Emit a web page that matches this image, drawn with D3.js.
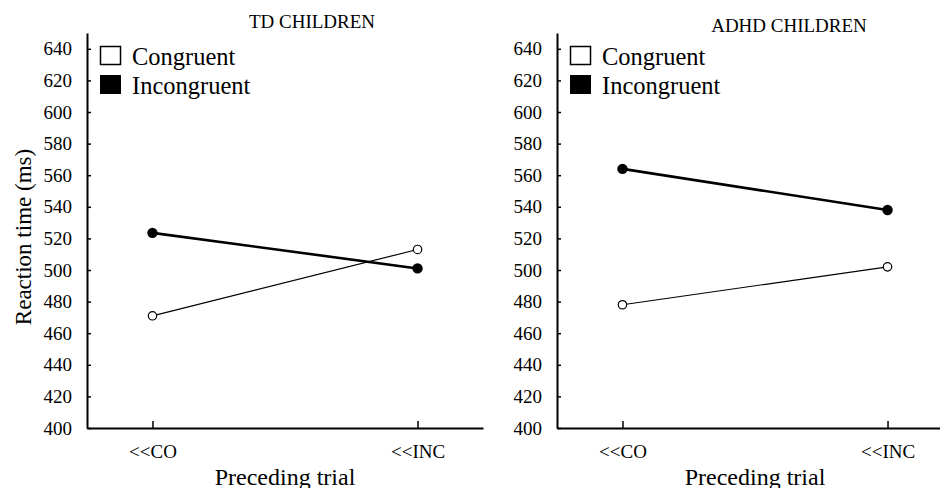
<!DOCTYPE html>
<html><head><meta charset="utf-8">
<script src="https://cdn.jsdelivr.net/npm/d3@7"></script>
<style>body{margin:0;background:#fff}svg{display:block}text{font-family:"Liberation Serif","Times New Roman",serif;fill:#000}</style>
</head><body><svg id="c" width="940" height="488"></svg>
<script>
const categories = ["<<CO", "<<INC"];
const panelTitles = ["TD CHILDREN", "ADHD CHILDREN"];
const tdCongruent = [471, 513];
const tdIncongruent = [523.5, 501];
const adhdCongruent = [478, 502];
const adhdIncongruent = [564, 538];
const yTicks = [400, 420, 440, 460, 480, 500, 520, 540, 560, 580, 600, 620, 640];
const legendLabels = ["Congruent", "Incongruent"];

const panels = [
  {title: panelTitles[0], cong: tdCongruent, inc: tdIncongruent, ox: 0, titleX: 312, titleY: 28},
  {title: panelTitles[1], cong: adhdCongruent, inc: adhdIncongruent, ox: 470, titleX: 789, titleY: 32}
];

const svg = d3.select("#c");
const y = d3.scaleLinear().domain([400, 650]).range([428, 33]);

panels.forEach(p => {
  const g = svg.append("g").attr("transform", `translate(${p.ox + 87},0)`);
  const x = d3.scalePoint().domain(categories).range([0, 396]).padding(0.247);

  // y axis
  const ya = g.append("g").call(d3.axisLeft(y).tickValues(yTicks).tickSizeInner(-4).tickSizeOuter(0).tickPadding(15));
  ya.select(".domain").attr("stroke-width", 2);
  ya.selectAll(".tick line").attr("stroke-width", 1.5);
  ya.selectAll("text").style("font-size", "19px").style("font-family", "Liberation Serif");

  // x axis
  const xa = g.append("g").attr("transform", "translate(0,428)").call(d3.axisBottom(x).tickSizeInner(-7).tickSizeOuter(0).tickPadding(17));
  xa.select(".domain").attr("stroke-width", 2);
  xa.selectAll(".tick line").attr("stroke-width", 1.5);
  xa.selectAll("text").style("font-size", "19px").style("font-family", "Liberation Serif");

  // x label
  g.append("text").attr("x", 198).attr("y", 485).attr("text-anchor", "middle")
    .style("font-size", "24px").text("Preceding trial");

  // title
  svg.append("text").attr("x", p.titleX).attr("y", p.titleY).attr("text-anchor", "middle")
    .style("font-size", "19px").text(p.title);

  // legend
  const lg = g.append("g");
  lg.append("rect").attr("x", 13.5).attr("y", 46.5).attr("width", 20).attr("height", 18)
    .attr("fill", "#fff").attr("stroke", "#000").attr("stroke-width", 1.5);
  lg.append("rect").attr("x", 13).attr("y", 75).attr("width", 21).attr("height", 19).attr("fill", "#000");
  lg.append("text").attr("x", 45).attr("y", 65).style("font-size", "24.5px").text(legendLabels[0]);
  lg.append("text").attr("x", 45).attr("y", 94).style("font-size", "24.5px").text(legendLabels[1]);

  const line = d3.line().x((d, i) => x(categories[i])).y(d => y(d));
  g.append("path").datum(p.cong).attr("d", line).attr("fill", "none").attr("stroke", "#000").attr("stroke-width", 1.2);
  g.append("path").datum(p.inc).attr("d", line).attr("fill", "none").attr("stroke", "#000").attr("stroke-width", 2.6);

  g.selectAll(".cc").data(p.cong).enter().append("circle")
    .attr("cx", (d, i) => x(categories[i])).attr("cy", d => y(d)).attr("r", 4.2)
    .attr("fill", "#fff").attr("stroke", "#000").attr("stroke-width", 1.2);
  g.selectAll(".ic").data(p.inc).enter().append("circle")
    .attr("cx", (d, i) => x(categories[i])).attr("cy", d => y(d)).attr("r", 5.2)
    .attr("fill", "#000");
});

// y label
svg.append("text").attr("transform", "translate(31,237) rotate(-90)").attr("text-anchor", "middle")
  .style("font-size", "23px").text("Reaction time (ms)");
</script></body></html>
